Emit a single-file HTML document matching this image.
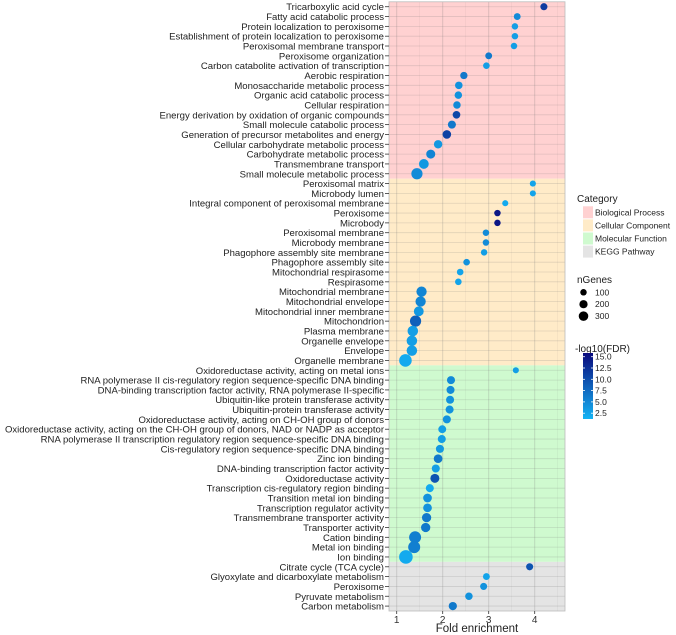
<!DOCTYPE html>
<html><head><meta charset="utf-8">
<style>
html,body{margin:0;padding:0;background:#fff;}
svg{display:block;font-family:"Liberation Sans",Arial,sans-serif;}
</style></head>
<body>
<svg id="chart" width="676" height="635" viewBox="0 0 676 635"></svg>
<script>
const terms = ["Tricarboxylic acid cycle","Fatty acid catabolic process","Protein localization to peroxisome","Establishment of protein localization to peroxisome","Peroxisomal membrane transport","Peroxisome organization","Carbon catabolite activation of transcription","Aerobic respiration","Monosaccharide metabolic process","Organic acid catabolic process","Cellular respiration","Energy derivation by oxidation of organic compounds","Small molecule catabolic process","Generation of precursor metabolites and energy","Cellular carbohydrate metabolic process","Carbohydrate metabolic process","Transmembrane transport","Small molecule metabolic process",
"Peroxisomal matrix","Microbody lumen","Integral component of peroxisomal membrane","Peroxisome","Microbody","Peroxisomal membrane","Microbody membrane","Phagophore assembly site membrane","Phagophore assembly site","Mitochondrial respirasome","Respirasome","Mitochondrial membrane","Mitochondrial envelope","Mitochondrial inner membrane","Mitochondrion","Plasma membrane","Organelle envelope","Envelope","Organelle membrane",
"Oxidoreductase activity, acting on metal ions","RNA polymerase II cis-regulatory region sequence-specific DNA binding","DNA-binding transcription factor activity, RNA polymerase II-specific","Ubiquitin-like protein transferase activity","Ubiquitin-protein transferase activity","Oxidoreductase activity, acting on CH-OH group of donors","Oxidoreductase activity, acting on the CH-OH group of donors, NAD or NADP as acceptor","RNA polymerase II transcription regulatory region sequence-specific DNA binding","Cis-regulatory region sequence-specific DNA binding","Zinc ion binding","DNA-binding transcription factor activity","Oxidoreductase activity","Transcription cis-regulatory region binding","Transition metal ion binding","Transcription regulator activity","Transmembrane transporter activity","Transporter activity","Cation binding","Metal ion binding","Ion binding",
"Citrate cycle (TCA cycle)","Glyoxylate and dicarboxylate metabolism","Peroxisome","Pyruvate metabolism","Carbon metabolism"];
const categoryOf = [].concat(Array(18).fill(0),Array(19).fill(1),Array(20).fill(2),Array(5).fill(3));
const foldEnrichment = [4.20,3.62,3.57,3.57,3.55,3.00,2.95,2.46,2.35,2.34,2.31,2.30,2.20,2.09,1.90,1.74,1.59,1.44,
3.96,3.96,3.36,3.19,3.19,2.94,2.94,2.90,2.52,2.38,2.34,1.54,1.52,1.48,1.41,1.35,1.33,1.33,1.19,
3.59,2.18,2.17,2.16,2.15,2.09,1.99,1.98,1.94,1.90,1.85,1.83,1.72,1.67,1.67,1.65,1.63,1.40,1.38,1.20,
3.89,2.95,2.89,2.57,2.22];
const nGenes = [45,40,32,32,32,40,35,50,55,55,55,60,70,85,80,100,130,190,
25,25,25,32,32,32,32,32,35,35,35,150,150,130,190,160,160,160,260,
25,70,70,70,70,70,65,70,70,90,70,100,70,90,90,110,110,230,230,320,
45,40,45,55,75];
const negLogFDR = [12,5.5,4,4,4,7,4,7,5,5,5.5,11,7,11.5,4.5,6,4.5,5.5,
3.5,3.5,3,15,15,5.5,5.5,4,5,3.5,3.5,6,6,4.5,9,4,4,4,3,
4,5.5,5.5,5,5,5,4,4,4.5,7,4,10,3,5,5,7,7,6.5,6.5,3,
10,3.5,5,5,7];
const categories = ["Biological Process","Cellular Component","Molecular Function","KEGG Pathway"];
const catColors = ["#FFD1D1","#FFEBC8","#CFFACF","#E4E4E4"];
const xTicks = [1,2,3,4];
const sizeBreaks = [100,200,300];
const colorTicks = ["15.0","12.5","10.0","7.5","5.0","2.5"];

const NS="http://www.w3.org/2000/svg";
const svg=document.getElementById('chart');
function mk(tag,attrs,parent){const e=document.createElementNS(NS,tag);for(const k in attrs)e.setAttribute(k,attrs[k]);(parent||svg).appendChild(e);return e;}
const PL=389,PR=565,PT=1.8,PB=611;
const x=v=>396.7+46*(v-1);
const rowH=(PB-PT)/terms.length;
const y=i=>PT+rowH*(i+0.5);
const rad=n=>1.6+Math.sqrt(n)*0.29;
const cLo=[20,180,245],cHi=[10,10,125];
function col(v){let t=(v-2.2)/(16-2.2);t=Math.max(0,Math.min(1,t));const c=cLo.map((a,k)=>Math.round(a+(cHi[k]-a)*t));return `rgb(${c[0]},${c[1]},${c[2]})`;}

let start=0;
for(let c=0;c<4;c++){
  const cnt=categoryOf.filter(v=>v===c).length;
  const b=mk('rect',{x:PL,y:PT+rowH*start,width:PR-PL,height:rowH*cnt,fill:catColors[c]});
  
  
  start+=cnt;
}
const grid=mk('g',{},svg);
[1.5,2.5,3.5,4.5].forEach(v=>mk('line',{x1:x(v),x2:x(v),y1:PT,y2:PB,stroke:'rgba(120,120,120,0.12)','stroke-width':0.6},grid));
xTicks.forEach(v=>mk('line',{x1:x(v),x2:x(v),y1:PT,y2:PB,stroke:'rgba(120,120,120,0.25)','stroke-width':1},grid));
terms.forEach((t,i)=>mk('line',{x1:PL,x2:PR,y1:y(i),y2:y(i),stroke:'rgba(120,120,120,0.22)','stroke-width':0.8},grid));
const border=mk('rect',{x:PL,y:PT,width:PR-PL,height:PB-PT,fill:'none',stroke:'#bbb','stroke-width':0.8});


const yax=mk('g',{},svg);
terms.forEach((t,i)=>{
  mk('line',{x1:PL-4,x2:PL,y1:y(i),y2:y(i),stroke:'#333','stroke-width':0.8},yax);
  const tx=mk('text',{x:PL-5,y:y(i)+3.5,'text-anchor':'end','font-size':'9.55px',fill:'#222'},yax);
  tx.textContent=t;
  
  
});
const xax=mk('g',{},svg);
xTicks.forEach(v=>{
  mk('line',{x1:x(v),x2:x(v),y1:PB,y2:PB+3,stroke:'#333','stroke-width':0.8},xax);
  const tx=mk('text',{x:x(v),y:PB+12,'text-anchor':'middle','font-size':'10px',fill:'#333'},xax);
  tx.textContent=v;
  
  
});
const xt=mk('text',{x:(PL+PR)/2,y:632,'text-anchor':'middle','font-size':'11.5px',fill:'#222'});
xt.textContent='Fold enrichment';



const pts=mk('g',{},svg);
terms.forEach((t,i)=>{
  const c=mk('circle',{cx:x(foldEnrichment[i]),cy:y(i),r:rad(nGenes[i]),fill:col(negLogFDR[i])},pts);
  
  
});

const lg=mk('g',{},svg);
function txt(s,xx,yy,fs,p){const e=mk('text',{x:xx,y:yy,'font-size':fs,fill:'#222'},p);e.textContent=s;return e;}
const lt1=txt('Category',577,202,'10px',lg);
categories.forEach((c,k)=>{
  const yc=212.3+k*13.1;
  const r=mk('rect',{x:583,y:yc-6,width:10,height:12,fill:catColors[k]},lg);
  
  const t=txt(c,595,yc+3,'8.5px',lg);
});
const lt2=txt('nGenes',577,283,'10px',lg);
sizeBreaks.forEach((n,k)=>{
  const yy=292.3+k*11.9;
  const c=mk('circle',{cx:583.5,cy:yy,r:rad(n)*0.72,fill:'#000'},lg);
  
  const t=txt(String(n),595,yy+3,'8.5px',lg);
});
const lt3=txt('-log10(FDR)',575,352,'10px',lg);
const defs=mk('defs',{});
const gr=mk('linearGradient',{id:'cg',x1:0,y1:1,x2:0,y2:0},defs);
mk('stop',{offset:'0','stop-color':col(2.2)},gr);mk('stop',{offset:'1','stop-color':col(16)},gr);
const cb=mk('rect',{x:583,y:353,width:10,height:66,fill:'url(#cg)'},lg);

colorTicks.forEach((s,k)=>{
  const yy=356.7+k*11.3;
  mk('line',{x1:583,x2:585,y1:yy,y2:yy,stroke:'#fff','stroke-width':0.8},lg);
  mk('line',{x1:591,x2:593,y1:yy,y2:yy,stroke:'#fff','stroke-width':0.8},lg);
  const t=txt(s,595,yy+3,'8.5px',lg);
});
</script>
</body></html>
